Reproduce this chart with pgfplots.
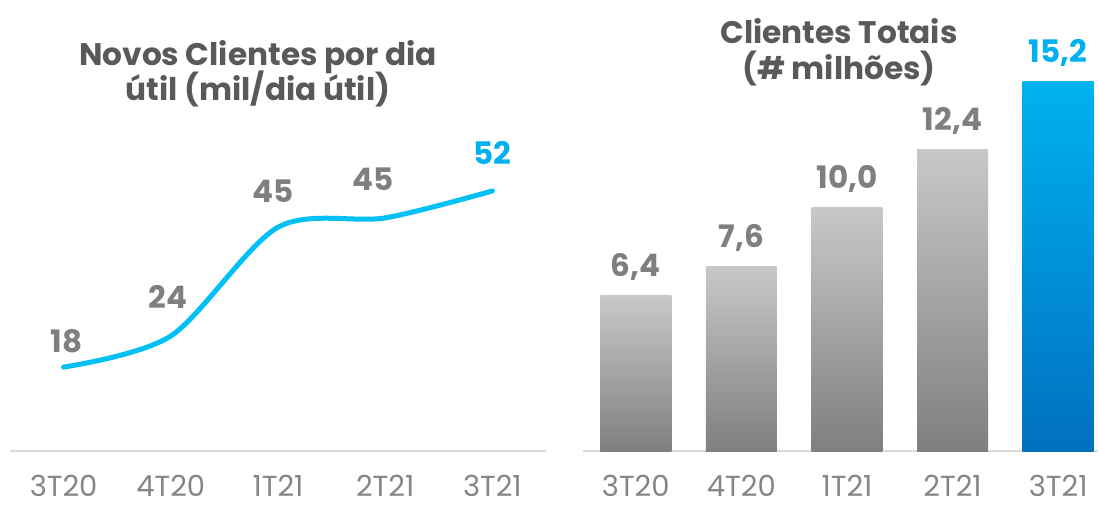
\documentclass[border=0pt]{standalone}
\usepackage{pgfplots}
\pgfplotsset{compat=1.18}
\usepackage{pgfplotstable}
\usepackage{fontspec}
\setmainfont{Poppins}

\definecolor{titlegray}{HTML}{595959}
\definecolor{lblgray}{HTML}{7F7F7F}
\definecolor{tickgray}{HTML}{858585}
\definecolor{cyanline}{HTML}{00C0F5}
\definecolor{bluelbl}{HTML}{00B0F0}
\definecolor{bluetop}{HTML}{00B2F0}
\definecolor{bluebot}{HTML}{0070C0}
\definecolor{bartop}{HTML}{C9C8C8}
\definecolor{barbot}{HTML}{7F7F7F}
\definecolor{baseline}{HTML}{D9D9D9}

% novos clientes por dia util (mil)
\pgfplotstableread{
x y lbl dx dy
0 18 18 3 15
1 24 24 -3 27
2 45 45 -5 25
3 46.8 45 -12 27
4 52 52 0 26
}\novos

\tikzset{lbl/.style={font=\bfseries\fontsize{31}{31}\selectfont, anchor=base}}

\pgfplotsset{
  panel/.style={
    scale only axis, clip=false,
    hide y axis,
    axis x line*=bottom,
    x axis line style={draw=baseline, line width=2pt, -},
    major tick length=0pt,
    xtick={0,...,4},
    xticklabels={3T20,4T20,1T21,2T21,3T21},
    xticklabel style={font=\fontsize{29}{29}\selectfont, text=tickgray, anchor=base, inner sep=0pt, yshift=-45pt},
    xmin=-0.5,
  },
  graybar/.style={draw=none, top color=bartop, bottom color=barbot, bar shift=0pt,
    nodes near coords, point meta=explicit symbolic,
    nodes near coords style={lbl, text=lblgray, yshift=19pt}},
}

\begin{document}
\begin{tikzpicture}
\useasboundingbox (0,0) rectangle (1099pt,506pt);

\begin{axis}[panel, at={(10pt,55pt)}, anchor=south west,
  width=536pt, height=301.5pt, xmax=4.5, ymin=1.8, ymax=60]
\addplot[cyanline, line width=5pt, line cap=round, smooth, mark=none,
  nodes near coords, point meta=explicit symbolic,
  visualization depends on={\thisrow{dx}\as\ldx},
  visualization depends on={\thisrow{dy}\as\ldy},
  nodes near coords style={lbl, text=lblgray, xshift=\ldx pt, yshift=\ldy pt}]
  table[x=x, y=y, meta=lbl] {\novos};
% last label in blue, drawn over the gray one
\addplot[draw=none, mark=none, nodes near coords, point meta=explicit symbolic,
  nodes near coords style={lbl, text=bluelbl, yshift=26pt, fill=white, inner sep=1pt}]
  table[x=x, y=y, meta=lbl] {
x y lbl
4 52 52
};
\end{axis}

\begin{axis}[panel, at={(583pt,55pt)}, anchor=south west,
  width=515.3pt, height=401.6pt, xmax=4.38, ymin=0, ymax=16.5,
  ybar, bar width=71pt]
% one plot per bar so each bar gets its own gradient
\addplot[graybar] table[x=x, y=y, meta=lbl] {
x y lbl
0 6.4 {6,4}
};
\addplot[graybar] table[x=x, y=y, meta=lbl] {
x y lbl
1 7.6 {7,6}
};
\addplot[graybar] table[x=x, y=y, meta=lbl] {
x y lbl
2 10.0 {10,0}
};
\addplot[graybar] table[x=x, y=y, meta=lbl] {
x y lbl
3 12.4 {12,4}
};
\addplot[draw=none, top color=bluetop, bottom color=bluebot, bar shift=0pt,
  nodes near coords, point meta=explicit symbolic,
  nodes near coords style={lbl, text=bluelbl, yshift=19pt}]
  table[x=x, y=y, meta=lbl] {
x y lbl
4 15.2 {15,2}
};
\end{axis}

\node[font=\bfseries\fontsize{31.2}{31.2}\selectfont, text=titlegray, anchor=base] at (258pt,440pt) {Novos Clientes por dia};
\node[font=\bfseries\fontsize{31.2}{31.2}\selectfont, text=titlegray, anchor=base] at (258pt,405pt) {útil (mil/dia útil)};
\node[font=\bfseries\fontsize{31.2}{31.2}\selectfont, text=titlegray, anchor=base] at (839pt,462pt) {Clientes Totais};
\node[font=\bfseries\fontsize{31.2}{31.2}\selectfont, text=titlegray, anchor=base] at (839pt,426pt) {(\# milhões)};
\end{tikzpicture}
\end{document}
